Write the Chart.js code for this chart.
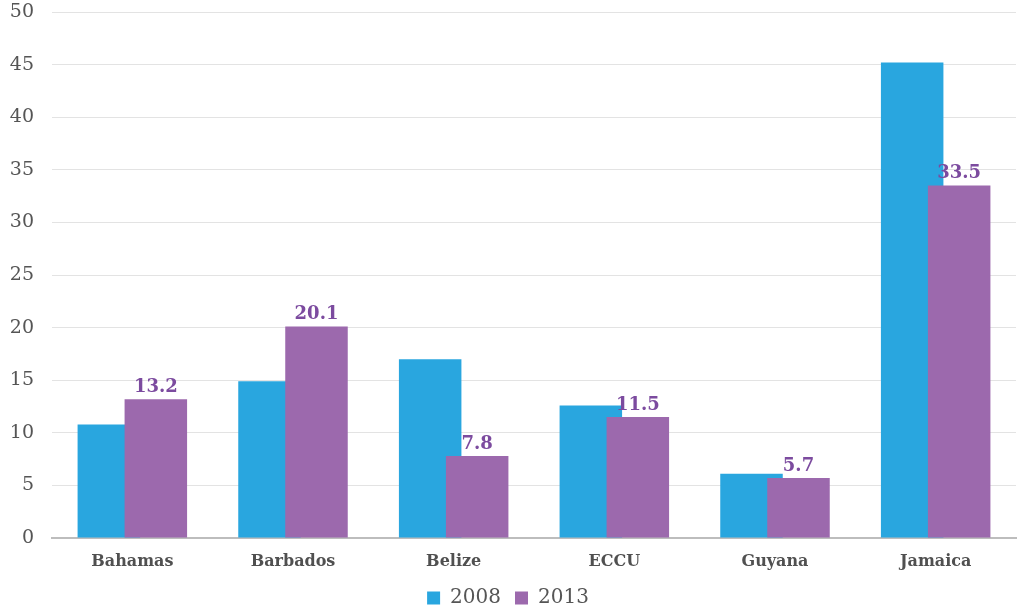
<!DOCTYPE html>
<html>
<head>
<meta charset="utf-8">
<script src="https://cdn.jsdelivr.net/npm/chart.js@4/dist/chart.umd.min.js"></script>
<style>
  html, body { margin: 0; padding: 0; background: #fff; }
  #wrap { position: relative; width: 1019px; height: 609px; }
</style>
</head>
<body>
<div id="wrap"><canvas id="chart"></canvas></div>
<script>
// Datos del gráfico
const countries = ['Bahamas', 'Barbados', 'Belize', 'ECCU', 'Guyana', 'Jamaica'];
const values2008 = [10.8, 14.9, 17.0, 12.6, 6.1, 45.2];
const values2013 = [13.2, 20.1, 7.8, 11.5, 5.7, 33.5];
const yTicks = [0, 5, 10, 15, 20, 25, 30, 35, 40, 45, 50];

const blue = '#29a6df';
const purple = '#9c69ad';
const serif = "'DejaVu Serif', serif";

// La serie 2013 se dibuja encima de la 2008 (Chart.js pinta el dataset 0 al final)
const drawOrder = {
    id: 'drawOrder',
    beforeDatasetDraw(chart, args) {
        if (args.index === 1 && !chart._drawingTop) return false;
    },
    afterDatasetsDraw(chart) {
        const meta = chart.getDatasetMeta(1);
        const area = chart.chartArea;
        const ctx = chart.ctx;
        ctx.save();
        ctx.beginPath();
        ctx.rect(area.left, area.top - 20, area.right - area.left, area.bottom - area.top + 20);
        ctx.clip();
        chart._drawingTop = true;
        meta.controller.draw();
        chart._drawingTop = false;
        ctx.restore();

        // Etiquetas solo para la serie 2013
        ctx.save();
        ctx.fillStyle = '#7c4b9f';
        ctx.font = 'bold 18px ' + serif;
        ctx.textAlign = 'center';
        ctx.textBaseline = 'bottom';
        meta.data.forEach((bar, i) => {
            ctx.fillText(values2013[i].toFixed(1), bar.x, bar.y - 3);
        });
        ctx.restore();
    }
};

new Chart(document.getElementById('chart'), {
    type: 'bar',
    data: {
        labels: countries,
        datasets: [
            { label: '2008', data: values2008, backgroundColor: blue,
              categoryPercentage: 0.585, barPercentage: 1.33 },
            { label: '2013', data: values2013, backgroundColor: purple,
              categoryPercentage: 0.585, barPercentage: 1.33 }
        ]
    },
    options: {
        responsive: true,
        maintainAspectRatio: false,
        animation: false,
        layout: { padding: { top: 12, right: 3, left: 0, bottom: -9 } },
        plugins: {
            tooltip: { enabled: false },
            legend: {
                position: 'bottom',
                labels: {
                    boxWidth: 13, boxHeight: 13, padding: 14,
                    color: '#555',
                    font: { family: serif, size: 20 }
                }
            }
        },
        scales: {
            x: {
                afterFit: (axis) => { axis.height = 36; },
                grid: { display: false, drawTicks: false },
                border: { color: '#bdbdbd', width: 2 },
                ticks: { color: '#505050', padding: 14, font: { family: serif, size: 16, weight: 'bold' } }
            },
            y: {
                min: 0, max: 50,
                afterBuildTicks: (axis) => { axis.ticks = yTicks.map(v => ({ value: v })); },
                afterFit: (axis) => { axis.width = 52; axis.paddingTop = 0; axis.paddingBottom = 0; },
                grid: { color: '#e3e3e3', lineWidth: 1, drawTicks: false },
                border: { display: false },
                ticks: { color: '#555', padding: 18, font: { family: serif, size: 19 } }
            }
        }
    },
    plugins: [drawOrder]
});
</script>
</body>
</html>
